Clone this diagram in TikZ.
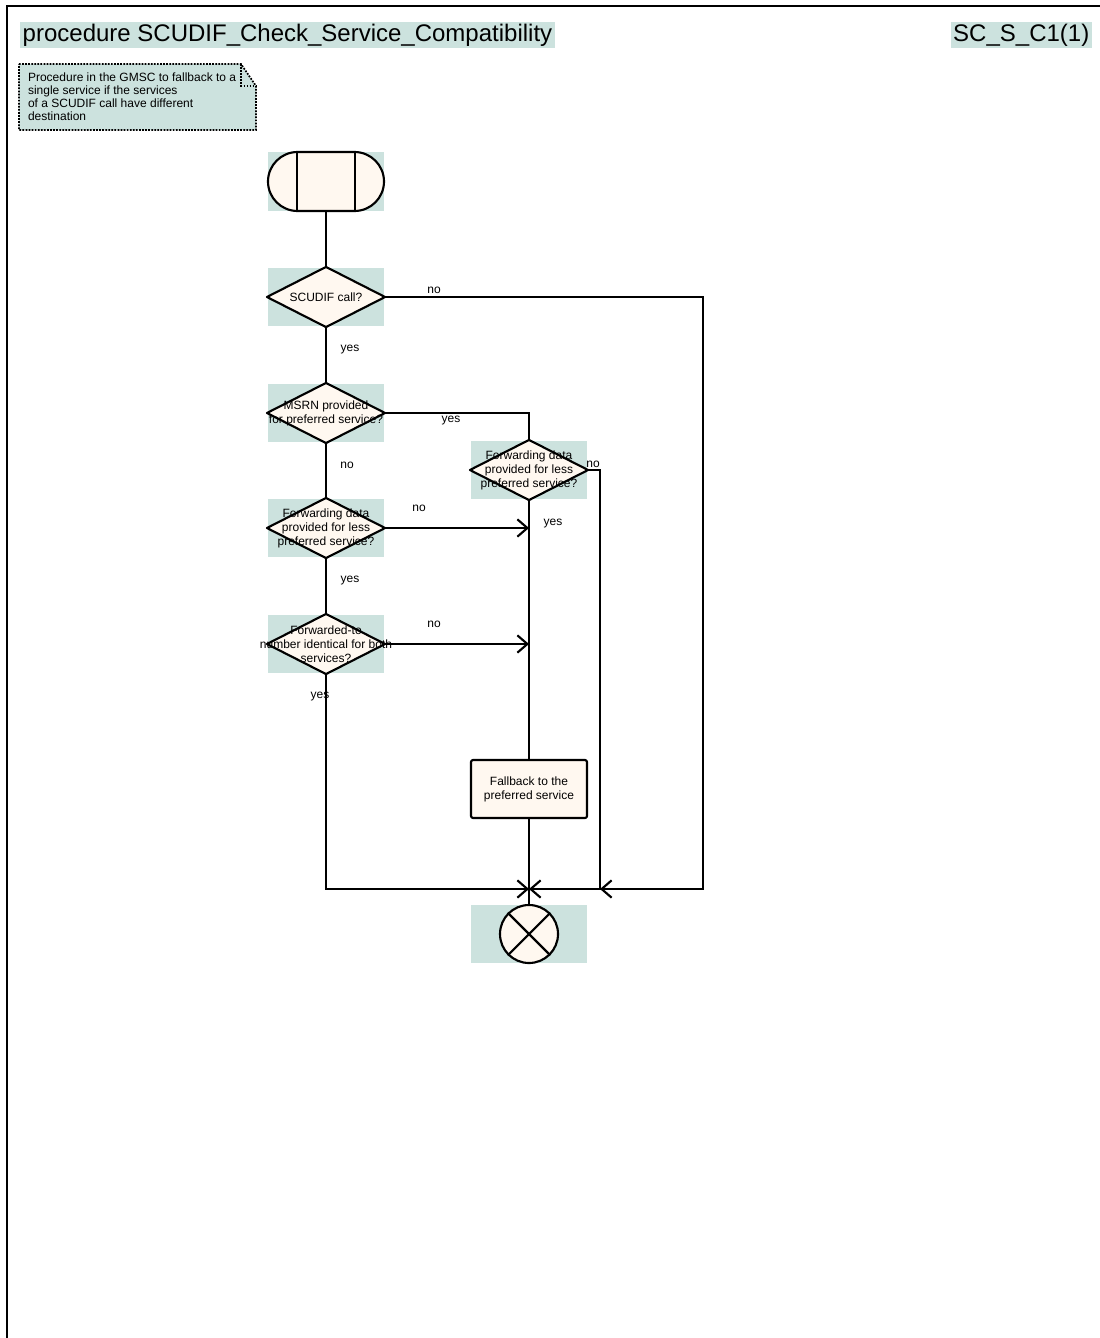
\documentclass[tikz,border=0pt]{standalone}
\usepackage{fontspec}
\setmainfont{Liberation Sans}
\usepackage{tikz}
\usetikzlibrary{arrows.meta, shapes.misc}
\definecolor{sdlbg}{RGB}{204,226,222}
\definecolor{sdlfill}{RGB}{255,248,240}

\begin{document}
\begin{tikzpicture}[x=0.75pt, y=-0.75pt, line width=1.6pt,
  every node/.style={font=\fontsize{9}{10.5}\selectfont, inner sep=0pt},
  bgbox/.style={rectangle, fill=sdlbg, minimum width=87pt, minimum height=43.5pt},
  sym/.style={draw=black, fill=sdlfill, line width=1.6pt, line join=round},
  flow/.style={draw=black, line width=1.6pt},
  arr/.style={-{Straight Barb[length=7.5pt, width=13pt]}},
  lbl/.style={font=\fontsize{9}{10.5}\selectfont, align=center},
  cmt/.style={dash pattern=on 1.3pt off 1pt, line width=1.3pt}]
  \useasboundingbox (0,0) rectangle (1099,1338);
  % frame and heading
  \draw[line width=1.7pt] (7,1342) -- (7,6) -- (1103,6);
  \node[fill=sdlbg, anchor=west, inner xsep=2pt, inner ysep=1.5pt, font=\fontsize{18}{20}\selectfont] (title) at (19,35) {procedure SCUDIF\_Check\_Service\_Compatibility};
  \node[fill=sdlbg, anchor=east, inner xsep=2pt, inner ysep=1.5pt, font=\fontsize{18}{20}\selectfont] (page) at (1093,35) {SC\_S\_C1(1)};
  % comment
  \fill[sdlbg] (19,64) -- (241,64) -- (256,86) -- (256,130) -- (19,130) -- cycle;
  \draw[cmt] (19,64) -- (241,64) -- (256,86) -- (256,130) -- (19,130) -- cycle;
  \draw[cmt] (241,64) -- (241,86) -- (256,86);
  \node[anchor=north west, align=left, font=\fontsize{9}{9.6}\selectfont] (note) at (27,72) {Procedure in the GMSC to fallback to a\\single service if the services\\of a SCUDIF call have different\\destination};
  % start
  \node[bgbox, minimum height=44.25pt] (start) at (326,181.5) {};
  \node[sym, rounded rectangle, minimum width=87pt, minimum height=44.25pt] (startsym) at (start) {};
  \draw (297,152) -- (297,211);
  \draw (355,152) -- (355,211);
  % decisions
  \node[bgbox] (d1) at (326,297) {};
  \draw[sym] (d1.north) -- (d1.east) -- (d1.south) -- (d1.west) -- cycle;
  \node[lbl] (d1t) at (d1) {SCUDIF call?};
  \node[bgbox] (d2) at (326,413) {};
  \draw[sym] (d2.north) -- (d2.east) -- (d2.south) -- (d2.west) -- cycle;
  \node[lbl] (d2t) at (d2) {MSRN provided\\for preferred service?};
  \node[bgbox] (d3) at (529,470) {};
  \draw[sym] (d3.north) -- (d3.east) -- (d3.south) -- (d3.west) -- cycle;
  \node[lbl] (d3t) at (d3) {Forwarding data\\provided for less\\preferred service?};
  \node[bgbox] (d4) at (326,528) {};
  \draw[sym] (d4.north) -- (d4.east) -- (d4.south) -- (d4.west) -- cycle;
  \node[lbl] (d4t) at (d4) {Forwarding data\\provided for less\\preferred service?};
  \node[bgbox] (d5) at (326,644) {};
  \draw[sym] (d5.north) -- (d5.east) -- (d5.south) -- (d5.west) -- cycle;
  \node[lbl] (d5t) at (d5) {Forwarded-to\\number identical for both\\services?};
  % task and stop
  \node[sym, rectangle, rounded corners=1.5pt, minimum width=87pt, minimum height=43.5pt, lbl] (fb) at (529,789) {Fallback to the\\preferred service};
  \node[bgbox] (stopbg) at (529,934) {};
  \node[sym, circle, minimum size=43.5pt] (stop) at (stopbg) {};
  \draw (stop.north west) -- (stop.south east);
  \draw (stop.north east) -- (stop.south west);
  % connectors
  \coordinate (j1) at (529,889);
  \coordinate (j2) at (600,889);
  \coordinate (r1) at (703,889);
  \draw[flow] (start.south) -- (d1.north);
  \draw[flow, arr] (d1.east) -| (r1) -- (j2);
  \draw[flow] (d1.south) -- (d2.north);
  \draw[flow] (d2.east) -| (d3.north);
  \draw[flow, arr] (d3.east) -| (j2) -- (j1);
  \draw[flow] (d2.south) -- (d4.north);
  \draw[flow, arr] (d4.east) -- (d4.east -| d3.south);
  \draw[flow] (d4.south) -- (d5.north);
  \draw[flow, arr] (d5.east) -- (d5.east -| d3.south);
  \draw[flow, arr] (d5.south) |- (j1);
  \draw[flow] (d3.south) -- (fb.north);
  \draw[flow] (fb.south) -- (stop.north);
  % labels
  \node[lbl] (no1) at (434,290) {no};
  \node[lbl] (yes1) at (350,350) {yes};
  \node[lbl] (yes2) at (451,421) {yes};
  \node[lbl] (no2) at (347,465) {no};
  \node[lbl] (no3) at (593,464) {no};
  \node[lbl] (yes3) at (553,524) {yes};
  \node[lbl] (no4) at (419,508) {no};
  \node[lbl] (yes4) at (350,581) {yes};
  \node[lbl] (no5) at (434,624) {no};
  \node[lbl] (yes5) at (320,697) {yes};
\end{tikzpicture}
\end{document}
